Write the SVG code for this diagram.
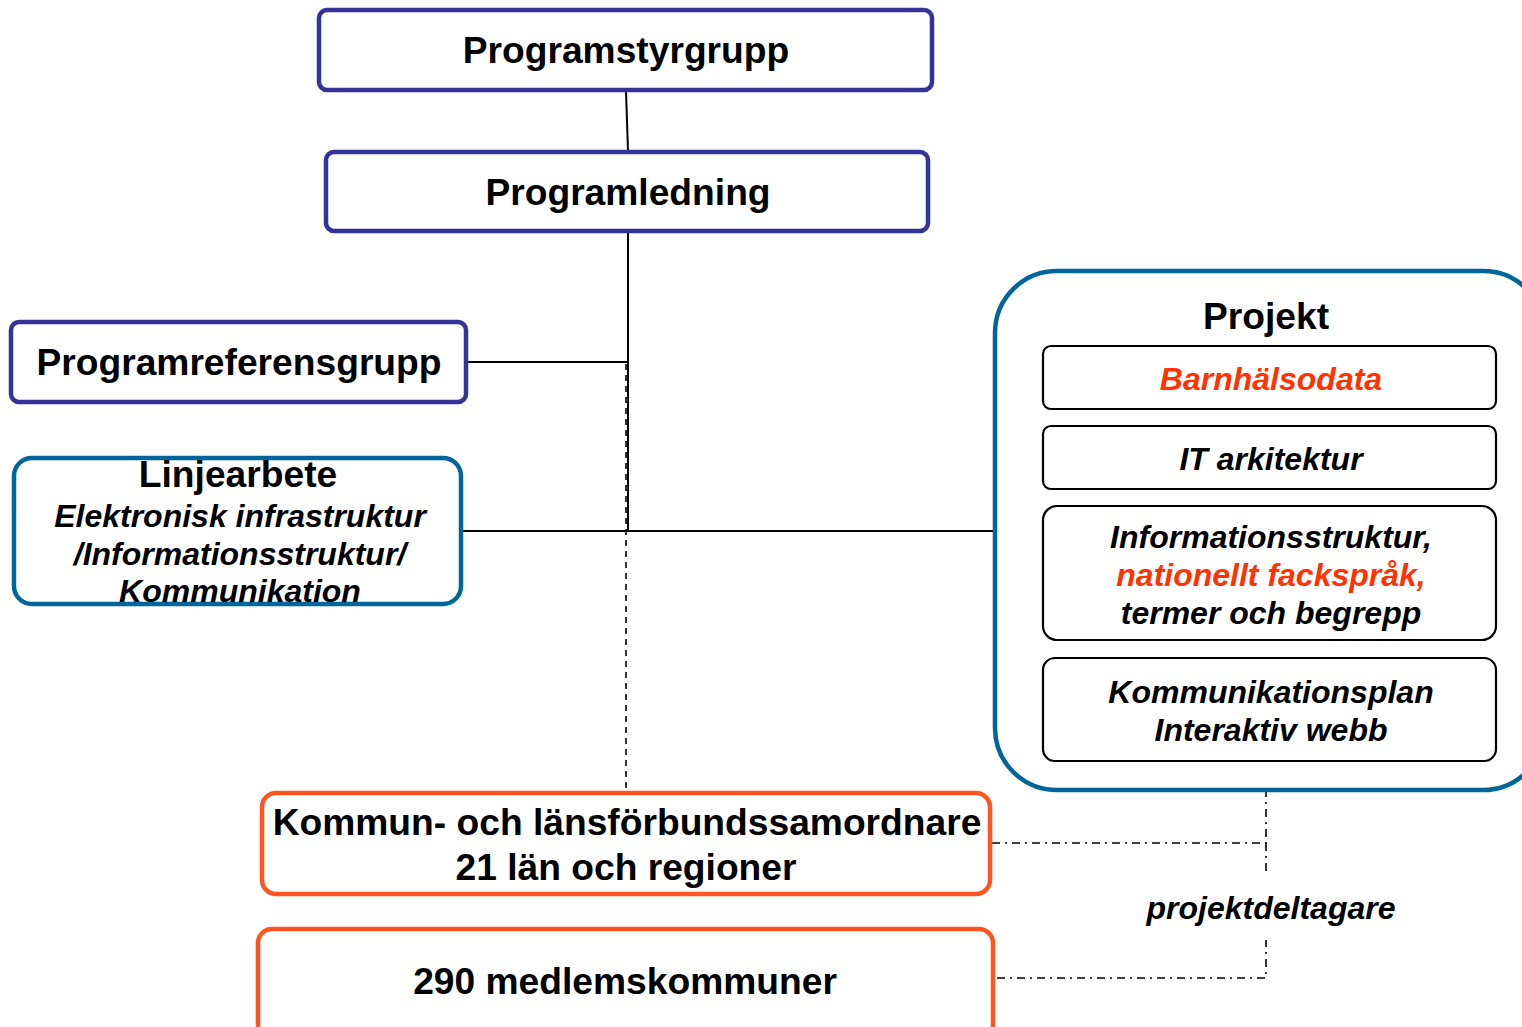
<svg xmlns="http://www.w3.org/2000/svg" width="1522" height="1027" viewBox="0 0 1522 1027">
<style>
.bg{fill:#ffffff}
.ind{fill:#ffffff;stroke:#333399;stroke-width:4.5}
.teal{fill:#ffffff;stroke:#006699;stroke-width:4.5}
.org{fill:#ffffff;stroke:#ff5522;stroke-width:4.5}
.inner{fill:#ffffff;stroke:#000000;stroke-width:2.2}
.t{font-family:"Liberation Sans",Arial,sans-serif;font-weight:bold;text-anchor:middle;fill:#000000}
.h{font-size:37.2px}
.i{font-size:32px;font-style:italic}
.red{fill:#ff3300}
.solid{stroke:#000000;stroke-width:2;fill:none}
.dash{stroke:#000000;stroke-width:1.6;fill:none;stroke-dasharray:6 5}
.dd{stroke:#000000;stroke-width:1.6;fill:none;stroke-dasharray:8 5 2 5}
</style>
<rect class="bg" x="0" y="0" width="1522" height="1027"/>
<g id="connectors">
<line class="solid" x1="626" y1="91" x2="628" y2="151"/>
<line class="solid" x1="628" y1="232" x2="628" y2="531"/>
<line class="solid" x1="467" y1="362" x2="628" y2="362"/>
<line class="solid" x1="462" y1="531" x2="995" y2="531"/>
<line class="dash" x1="626" y1="364" x2="626" y2="790"/>
<polyline class="dd" points="992,843 1266,843 1266,792"/>
<line class="dd" x1="1266" y1="843" x2="1266" y2="874"/>
<polyline class="dd" points="997,978 1266,978 1266,940"/>
</g>
<g id="programstyrgrupp">
<rect class="ind" x="319" y="10" width="613" height="80" rx="8"/>
<text class="t h" x="626" y="63">Programstyrgrupp</text>
</g>
<g id="programledning">
<rect class="ind" x="326" y="152" width="602" height="79" rx="8"/>
<text class="t h" x="628" y="205">Programledning</text>
</g>
<g id="programreferensgrupp">
<rect class="ind" x="11" y="322" width="455" height="80" rx="8"/>
<text class="t h" x="239" y="375">Programreferensgrupp</text>
</g>
<g id="linjearbete">
<rect class="teal" x="14" y="458" width="447" height="146" rx="18"/>
<text class="t h" x="238" y="487">Linjearbete</text>
<text class="t i" x="240" y="527">Elektronisk infrastruktur</text>
<text class="t i" x="240" y="565">/Informationsstruktur/</text>
<text class="t i" x="240" y="602">Kommunikation</text>
</g>
<g id="projekt">
<rect class="teal" x="995" y="271" width="550" height="519" rx="62"/>
<text class="t h" x="1266" y="329">Projekt</text>
</g>
<g id="barnhalsodata">
<rect class="inner" x="1043" y="346" width="453" height="63" rx="8"/>
<text class="t i red" x="1271" y="390">Barnhälsodata</text>
</g>
<g id="itarkitektur">
<rect class="inner" x="1043" y="426" width="453" height="63" rx="8"/>
<text class="t i" x="1271" y="470">IT arkitektur</text>
</g>
<g id="informationsstruktur">
<rect class="inner" x="1043" y="506" width="453" height="134" rx="14"/>
<text class="t i" x="1271" y="548">Informationsstruktur,</text>
<text class="t i red" x="1271" y="586">nationellt fackspråk,</text>
<text class="t i" x="1271" y="624">termer och begrepp</text>
</g>
<g id="kommunikationsplan">
<rect class="inner" x="1043" y="658" width="453" height="103" rx="12"/>
<text class="t i" x="1271" y="703">Kommunikationsplan</text>
<text class="t i" x="1271" y="741">Interaktiv webb</text>
</g>
<g id="samordnare">
<rect class="org" x="262" y="793" width="728" height="101" rx="14"/>
<text class="t h" x="627" y="835">Kommun- och länsförbundssamordnare</text>
<text class="t h" x="626" y="880">21 län och regioner</text>
</g>
<g id="medlemskommuner">
<rect class="org" x="258" y="929" width="735" height="110" rx="14"/>
<text class="t h" x="625" y="994">290 medlemskommuner</text>
</g>
<g id="projektdeltagare">
<text class="t i" x="1271" y="919">projektdeltagare</text>
</g>
</svg>
